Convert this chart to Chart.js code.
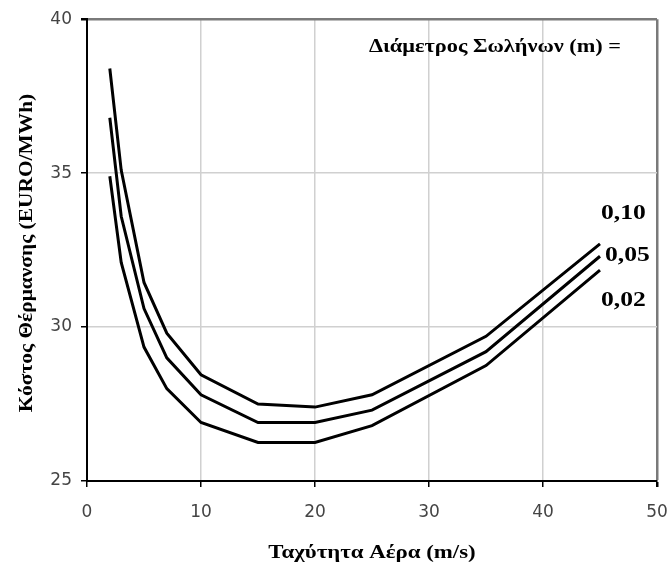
<!DOCTYPE html>
<html>
<head>
<meta charset="utf-8">
<script src="https://cdn.jsdelivr.net/npm/chart.js@4"></script>
<style>
  body { margin: 0; background: #fff; }
  #wrap { width: 668px; height: 572px; }
</style>
</head>
<body>
<div id="wrap"><canvas id="costChart" width="668" height="572"></canvas></div>
<script>
// air velocity (m/s)
const airSpeed = [2, 3, 5, 7, 10, 15, 20, 25, 35, 45];
// heating cost (EURO/MWh) per pipe diameter
const cost010 = [38.4, 35.1, 31.45, 29.8, 28.45, 27.5, 27.4, 27.8, 29.7, 32.7];
const cost005 = [36.8, 33.6, 30.6, 29.0, 27.8, 26.9, 26.9, 27.3, 29.2, 32.3];
const cost002 = [34.9, 32.1, 29.35, 28.0, 26.9, 26.25, 26.25, 26.8, 28.75, 31.85];
const diameterLabels = ['0,10', '0,05', '0,02'];

const xTicks = [0, 10, 20, 30, 40, 50];
const yTicks = [25, 30, 35, 40];

const xTitle = 'Ταχύτητα Αέρα (m/s)';
const yTitle = 'Κόστος Θέρμανσης (EURO/MWh)';
const heading = 'Διάμετρος Σωλήνων (m) =';

function toPoints(ys) {
    return airSpeed.map((x, i) => ({ x: x, y: ys[i] }));
}

// bold serif text, widened along its baseline
function wideText(ctx, text, x, y, size, stretch, angle) {
    ctx.save();
    ctx.translate(x, y);
    ctx.rotate(angle || 0);
    ctx.scale(stretch, 1);
    ctx.font = 'bold ' + size + 'px "Liberation Serif"';
    ctx.fillText(text, 0, 0);
    ctx.restore();
}

// axis titles, the heading and the diameter value at the end of each curve
const curveLabels = {
    id: 'curveLabels',
    afterDatasetsDraw(chart) {
        const ctx = chart.ctx;
        const area = chart.chartArea;
        const offsets = [[1, -30], [5, 0], [1, 31]];
        ctx.save();
        ctx.fillStyle = '#000';
        ctx.textBaseline = 'middle';
        ctx.textAlign = 'left';
        chart.data.datasets.forEach((ds, i) => {
            const meta = chart.getDatasetMeta(i);
            const last = meta.data[meta.data.length - 1];
            wideText(ctx, diameterLabels[i], last.x + offsets[i][0], last.y + offsets[i][1], 20, 1.28);
        });
        ctx.textAlign = 'center';
        wideText(ctx, heading, 495, 47, 18, 1.24);
        wideText(ctx, xTitle, (area.left + area.right) / 2, 553, 18, 1.27);
        wideText(ctx, yTitle, 27, 253, 18, 1.19, -Math.PI / 2);
        ctx.restore();
    }
};

const lineStyle = { borderColor: '#000', borderWidth: 3, pointRadius: 0, fill: false, tension: 0 };

new Chart(document.getElementById('costChart'), {
    type: 'line',
    data: {
        datasets: [
            Object.assign({ label: '0,10', data: toPoints(cost010) }, lineStyle),
            Object.assign({ label: '0,05', data: toPoints(cost005) }, lineStyle),
            Object.assign({ label: '0,02', data: toPoints(cost002) }, lineStyle)
        ]
    },
    options: {
        responsive: false,
        animation: false,
        layout: { padding: { left: 0, top: 18, right: 0, bottom: 0 } },
        plugins: { legend: { display: false }, tooltip: { enabled: false } },
        scales: {
            x: {
                type: 'linear',
                min: 0,
                max: 50,
                afterBuildTicks: (s) => { s.ticks = xTicks.map(v => ({ value: v })); },
                afterFit: (s) => {
                    s.height = 91;
                    // only the "50" label may hang past the right edge of the plot
                    s.paddingRight = 11;
                },
                border: { color: '#000', width: 2 },
                grid: {
                    color: (c) => c.tick && c.tick.value === 50 ? '#7a7a7a' : '#d0d0d0',
                    lineWidth: (c) => c.tick && c.tick.value === 50 ? 2.5 : 1.5,
                    tickColor: '#000',
                    tickLength: 6
                },
                ticks: {
                    color: '#444',
                    padding: 15,
                    maxRotation: 0,
                    font: { family: 'DejaVu Sans', size: 17 }
                }
            },
            y: {
                min: 25,
                max: 40,
                afterBuildTicks: (s) => { s.ticks = yTicks.map(v => ({ value: v })); },
                afterFit: (s) => { s.width = 87; },
                border: { color: '#000', width: 2 },
                grid: {
                    color: (c) => c.tick && c.tick.value === 40 ? '#7a7a7a' : '#d0d0d0',
                    lineWidth: (c) => c.tick && c.tick.value === 40 ? 2.5 : 1.5,
                    tickColor: '#000',
                    tickLength: 6
                },
                ticks: {
                    color: '#444',
                    padding: 9,
                    font: { family: 'DejaVu Sans', size: 17 }
                }
            }
        }
    },
    plugins: [curveLabels]
});
</script>
</body>
</html>
